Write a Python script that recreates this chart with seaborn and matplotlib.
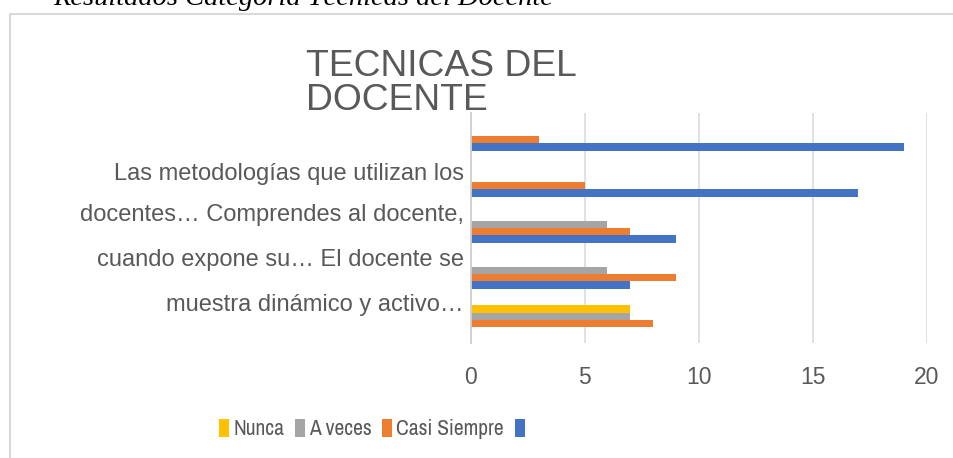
import matplotlib.pyplot as plt
import pandas as pd
import seaborn as sns
from matplotlib import font_manager
from matplotlib.lines import Line2D
from matplotlib.patches import Patch

# Data (top group first)
categories = ['P1', 'P2', 'P3', 'P4', 'P5']
series = ['Nunca', 'A veces', 'Casi Siempre', 'Siempre']
legend_labels = ['Nunca', 'A veces', 'Casi Siempre', '']
nunca = [None, None, None, None, 7]
a_veces = [None, None, 6, 6, 7]
casi_siempre = [3, 5, 7, 9, 8]
siempre = [19, 17, 9, 7, None]
label_lines = ['Las metodologías que utilizan los',
               'docentes… Comprendes al docente,',
               'cuando expone su… El docente se',
               'muestra dinámico y activo…']
label_pos = [0.78, 1.67, 2.65, 3.61]
x_ticks = [0, 5, 10, 15, 20]
colors = ['#FFC000', '#A5A5A5', '#ED7D31', '#4472C4']

rows = []
for s, vals in zip(series, [nunca, a_veces, casi_siempre, siempre]):
    for c, v in zip(categories, vals):
        if v is not None:
            rows.append({'cat': c, 'serie': s, 'valor': v})
df = pd.DataFrame(rows)

sns.set_style('white')
plt.rcParams['font.family'] = ['Liberation Sans', 'DejaVu Sans']
names = {f.name for f in font_manager.fontManager.ttflist}
narrow = 'Liberation Sans'
for cand in ['Liberation Sans Narrow', 'Archivo Narrow']:
    if cand in names:
        narrow = cand
        break
gray_txt = '#595959'

fig = plt.figure(figsize=(9.54, 4.58), dpi=100)
ax = fig.add_axes([470.7 / 954, 115 / 458, 456 / 954, 230 / 458])

sns.barplot(data=df, y='cat', x='valor', hue='serie', order=categories,
            hue_order=series, palette=colors, saturation=1, orient='h',
            width=0.652, linewidth=0, legend=False, ax=ax)

ax.set_xlim(0, 20)
ax.set_ylim(4.5, -0.5)
ax.set_xticks(x_ticks)
ax.set_xticklabels([str(t) for t in x_ticks], fontsize=16.5, color=gray_txt)
ax.set_yticks(label_pos)
ax.set_yticklabels(label_lines, fontsize=17, color=gray_txt)
ax.tick_params(axis='both', length=0)
ax.tick_params(axis='x', pad=16.5)
ax.tick_params(axis='y', pad=5)
ax.set_xlabel('')
ax.set_ylabel('')
ax.xaxis.grid(True, color='#D9D9D9', linewidth=1.1)
ax.set_axisbelow(True)
for side in ['top', 'right', 'bottom']:
    ax.spines[side].set_visible(False)
ax.spines['left'].set_color('#D0D0D0')
ax.spines['left'].set_linewidth(1.3)

handles = [Patch(facecolor=c, edgecolor='none') for c in colors]
fig.legend(handles, legend_labels, loc='center', bbox_to_anchor=(374 / 954, 29 / 458),
           ncol=4, frameon=False, handlelength=0.45, handleheight=0.9,
           handletextpad=0.2, columnspacing=0.5,
           prop={'family': narrow, 'size': 15.5}, labelcolor=gray_txt)

fig.text(306 / 954, 1 - 48.5 / 458, 'TECNICAS DEL\nDOCENTE', fontsize=26.8,
         color=gray_txt, ha='left', va='top', linespacing=1.0)

fig.text(53 / 954, 1 - 5 / 458, 'Resultados Categoría Técnicas del Docente',
         family='Liberation Serif', style='italic', fontsize=20.5,
         ha='left', va='baseline', color='black')

# chart frame (left and top edges visible)
fig.add_artist(Line2D([10 / 954, 10 / 954, 1], [0, 1 - 14 / 458, 1 - 14 / 458],
                      transform=fig.transFigure, color='#D9D9D9', linewidth=1.5))

fig.savefig('out.png', dpi=100)
